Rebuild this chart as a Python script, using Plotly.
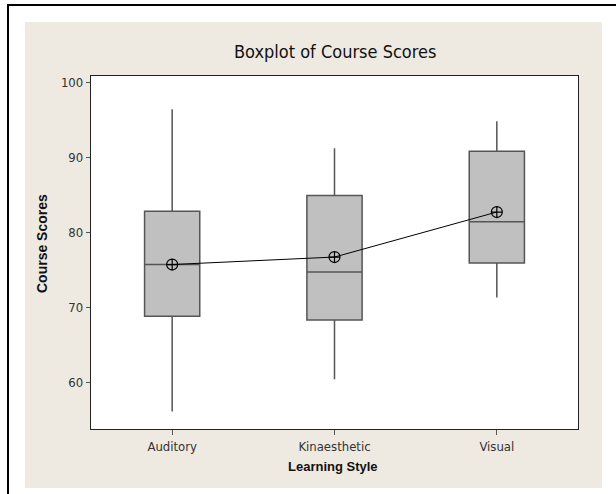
import plotly.graph_objects as go

categories = ["Auditory", "Kinaesthetic", "Visual"]
lower_whisker = [56.1, 60.4, 71.3]
q1 = [68.8, 68.3, 75.9]
median = [75.7, 74.7, 81.4]
q3 = [82.8, 84.9, 90.8]
upper_whisker = [96.4, 91.2, 94.8]
means = [75.7, 76.7, 82.7]
y_ticks = [60, 70, 80, 90, 100]

W, H = 616, 494
L, R, T, B = 91, 578, 76, 429
pw, ph = R - L, B - T

def px(x):
    return (x - L) / pw

def py(y):
    return (B - y) / ph

fig = go.Figure()
fig.add_trace(go.Box(
    x=categories, q1=q1, median=median, q3=q3,
    lowerfence=lower_whisker, upperfence=upper_whisker,
    width=0.34, whiskerwidth=0,
    fillcolor="#c0c0c0", line=dict(color="#555555", width=1.5),
    showlegend=False, hoverinfo="skip",
))
fig.add_trace(go.Scatter(
    x=categories, y=means, mode="lines+markers",
    line=dict(color="black", width=1),
    marker=dict(symbol="circle-cross-open", size=11, color="black",
                line=dict(width=1.2, color="black")),
    showlegend=False, hoverinfo="skip",
))

font = "Liberation Sans, Arial, sans-serif"
narrow = "Liberation Sans Narrow, DejaVu Sans Condensed, Arial, sans-serif"

shapes = [
    dict(type="rect", xref="paper", yref="paper", layer="below",
         x0=px(25), x1=px(602), y0=py(488), y1=py(22),
         fillcolor="#eeeae2", line=dict(width=0)),
    dict(type="rect", xref="paper", yref="paper", layer="below",
         x0=0, x1=1, y0=0, y1=1, fillcolor="white", line=dict(width=0)),
    dict(type="path", xref="paper", yref="paper",
         path=f"M {px(8)} {py(494)} L {px(8)} {py(5)} L {px(616)} {py(5)}",
         line=dict(color="black", width=2)),
]

annotations = [
    dict(text="Boxplot of Course Scores", xref="paper", yref="paper",
         x=0.5, y=py(52), showarrow=False, xanchor="center", yanchor="middle",
         font=dict(family=narrow, size=18, color="#111111")),
    dict(text="<b>Course Scores</b>", xref="paper", yref="paper",
         x=px(42), y=py(244), showarrow=False, textangle=-90,
         xanchor="center", yanchor="middle",
         font=dict(family=font, size=14, color="#111111")),
    dict(text="<b>Learning Style</b>", xref="paper", yref="paper",
         x=px(333), y=py(467), showarrow=False,
         xanchor="center", yanchor="middle",
         font=dict(family=font, size=13, color="#111111")),
]

fig.update_layout(
    width=W, height=H,
    margin=dict(l=L, r=W - R, t=T, b=H - B, pad=0),
    paper_bgcolor="white", plot_bgcolor="white",
    shapes=shapes, annotations=annotations,
    xaxis=dict(type="category", range=[-0.5, 2.5], showgrid=False,
               zeroline=False, showline=True, linecolor="#222222", linewidth=1.3,
               mirror=True, ticks="outside", ticklen=5, tickcolor="#555555",
               tickfont=dict(family=narrow, size=13, color="#333333"),
               fixedrange=True),
    yaxis=dict(range=[53.77, 100.84], tickvals=y_ticks, showgrid=False,
               zeroline=False, showline=True, linecolor="#222222", linewidth=1.3,
               mirror=True, ticks="outside", ticklen=4, tickcolor="#555555",
               tickfont=dict(family=narrow, size=13, color="#333333"),
               fixedrange=True),
)

fig.write_html("out.html", config={"displayModeBar": False},
               post_script="document.body.style.margin='0';document.body.style.overflow='hidden';")
